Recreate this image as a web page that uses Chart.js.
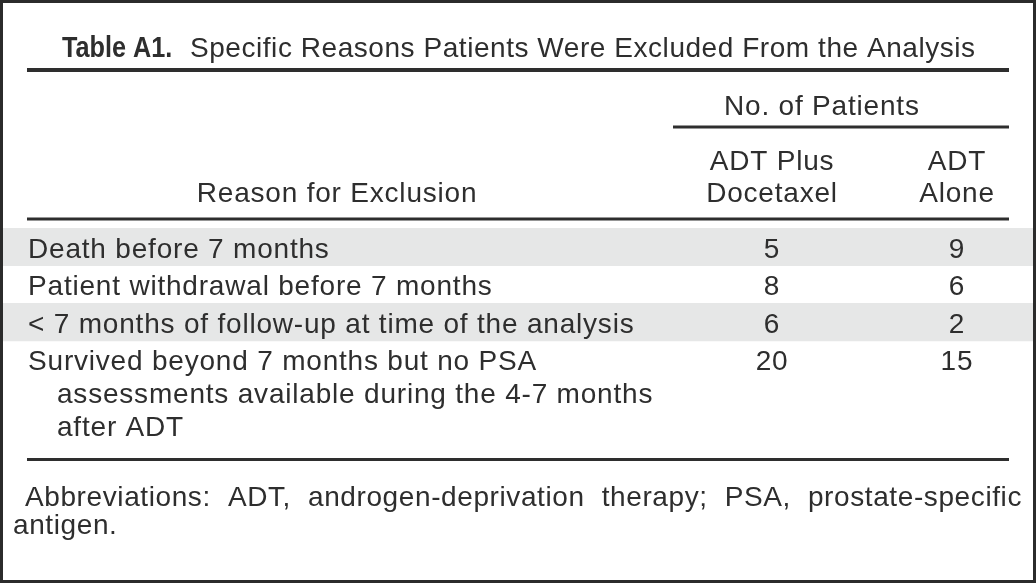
<!DOCTYPE html>
<html>
<head>
<meta charset="utf-8">
<script src="https://cdn.jsdelivr.net/npm/chart.js@4.4.0/dist/chart.umd.min.js"></script>
<style>
  html, body { margin: 0; padding: 0; background: #fff; }
  #frame { width: 1036px; height: 583px; box-sizing: border-box; border: 3px solid #2b2b2b; background: #fff; }
  canvas { display: block; }
</style>
</head>
<body>
<div id="frame"><canvas id="table" width="1030" height="577"></canvas></div>
<script>
const titleLabel = 'Table A1.'
const titleText = 'Specific Reasons Patients Were Excluded From the Analysis'
const groupHeader = 'No. of Patients'
const columnHeaders = [['Reason for Exclusion'], ['ADT Plus', 'Docetaxel'], ['ADT', 'Alone']]
const reasons = [
    ['Death before 7 months'],
    ['Patient withdrawal before 7 months'],
    ['< 7 months of follow-up at time of the analysis'],
    ['Survived beyond 7 months but no PSA', 'assessments available during the 4-7 months', 'after ADT']
]
const adtDocetaxel = [5, 8, 6, 20]
const adtAlone = [9, 6, 2, 15]
const shadedRows = [true, false, true, false]
const footnoteLines = ['Abbreviations: ADT, androgen-deprivation therapy; PSA, prostate-specific', 'antigen.']

const ink = '#2e2e2e'
const bodyFont = '28px "Liberation Sans", Arial, sans-serif'
const boldFont = 'bold 29px "Liberation Sans", Arial, sans-serif'
const rowPad = 0.14      // extra space per row, in text lines
const baseOff = 0.894    // first baseline below row top, in text lines

// row positions on the y scale, in text-line units
let rowTop = []
let acc = 0
reasons.forEach(r => { rowTop.push(acc); acc += r.length + rowPad })
const totalLines = acc

// column anchors as a fraction of the table width
const col = { reason: 0.0243, indent: 0.0524, docetaxel: 0.7466, alone: 0.9262,
              ruleL: 0.0233, ruleR: 0.9767, groupL: 0.6505, group: 0.795, reasonHead: 0.3243 }

function hline(ctx, x0, x1, y, w) {
    ctx.lineWidth = w
    ctx.beginPath()
    ctx.moveTo(x0, y)
    ctx.lineTo(x1, y)
    ctx.stroke()
}

const tableText = {
    id: 'tableText',
    afterDatasetsDraw(chart) {
        const ctx = chart.ctx
        const x = chart.scales.x
        const y = chart.scales.y
        ctx.save()
        ctx.fillStyle = ink
        ctx.strokeStyle = ink
        ctx.textBaseline = 'alphabetic'
        ctx.textAlign = 'left'

        // title: condensed bold label, then the caption
        ctx.save()
        ctx.font = boldFont
        ctx.letterSpacing = '0px'
        ctx.translate(59, 54)
        ctx.scale(0.87, 1)
        ctx.fillText(titleLabel, 0, 0)
        ctx.restore()
        ctx.font = bodyFont
        ctx.letterSpacing = '0.55px'
        ctx.fillText(titleText, 187, 54)

        ctx.letterSpacing = '0.8px'
        const rl = x.getPixelForValue(col.ruleL)
        const rr = x.getPixelForValue(col.ruleR)
        hline(ctx, rl, rr, 67, 4)

        // column headers
        ctx.textAlign = 'center'
        ctx.fillText(groupHeader, x.getPixelForValue(col.group), 112)
        hline(ctx, x.getPixelForValue(col.groupL), rr, 124, 3)
        const headX = [col.reasonHead, col.docetaxel, col.alone]
        columnHeaders.forEach((lines, c) => {
            lines.forEach((t, k) => {
                const by = 199 - (lines.length - 1 - k) * 32
                ctx.fillText(t, x.getPixelForValue(headX[c]), by)
            })
        })
        hline(ctx, rl, rr, 216, 3)

        // body cells
        reasons.forEach((lines, i) => {
            ctx.textAlign = 'left'
            lines.forEach((t, k) => {
                const px = x.getPixelForValue(k === 0 ? col.reason : col.indent)
                ctx.fillText(t, px, y.getPixelForValue(rowTop[i] + baseOff + k))
            })
            const by = y.getPixelForValue(rowTop[i] + baseOff)
            ctx.textAlign = 'center'
            ctx.fillText(String(adtDocetaxel[i]), x.getPixelForValue(col.docetaxel), by)
            ctx.fillText(String(adtAlone[i]), x.getPixelForValue(col.alone), by)
        })
        hline(ctx, rl, rr, 456.5, 3)

        // footnote, first line justified
        ctx.textAlign = 'left'
        ctx.letterSpacing = '0.6px'
        const words = footnoteLines[0].split(' ')
        const left = 22, right = 1019
        const sum = words.reduce((s, w) => s + ctx.measureText(w).width, 0)
        const space = (right - left - sum) / (words.length - 1)
        let fx = left
        words.forEach(w => {
            ctx.fillText(w, fx, 503)
            fx += ctx.measureText(w).width + space
        })
        ctx.fillText(footnoteLines[1], 10, 531)
        ctx.restore()
    }
}

const ctx = document.getElementById('table').getContext('2d')
const bands = new Chart(ctx, {
    type: 'bar',
    data: {
        datasets: [{
            label: 'shading',
            data: reasons.map((r, i) => ({ y: rowTop[i] + (1 + rowPad) / 2, x: shadedRows[i] ? [0, 1] : null })),
            backgroundColor: '#e6e7e7',
            borderWidth: 0,
            barPercentage: 1,
            categoryPercentage: 1
        }]
    },
    options: {
        indexAxis: 'y',
        responsive: false,
        animation: false,
        events: [],
        layout: { padding: { top: 225, bottom: 577 - 225 - totalLines * 33, left: 0, right: 0 } },
        plugins: { legend: { display: false }, tooltip: { enabled: false } },
        scales: {
            x: { type: 'linear', min: 0, max: 1, display: false },
            y: { type: 'linear', min: 0, max: totalLines, reverse: true, display: false,
                 afterBuildTicks: s => { s.ticks = [] } }
        }
    },
    plugins: [tableText]
})
</script>
</body>
</html>
